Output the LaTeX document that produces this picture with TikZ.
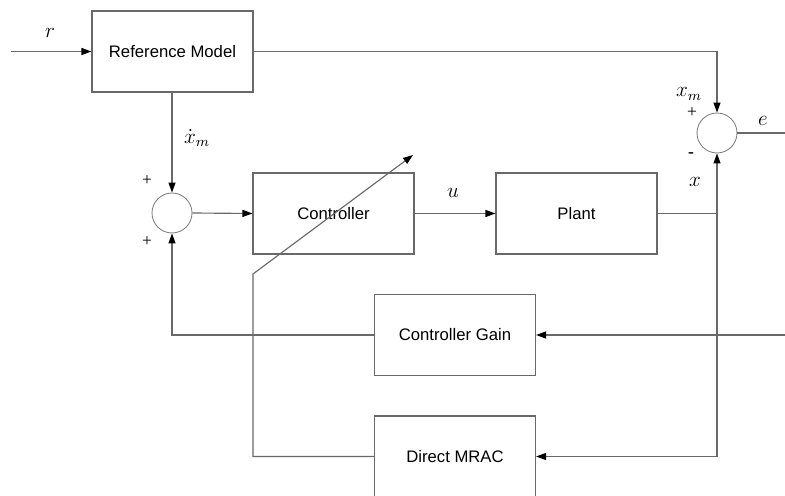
\documentclass[tikz,border=0pt]{standalone}
\usepackage{fontspec}
\setmainfont{Liberation Serif}
\setsansfont{Liberation Sans}
\usetikzlibrary{arrows.meta,calc}
\definecolor{wirecolor}{RGB}{105,105,105}
\tikzset{
	block/.style={draw=wirecolor,line width=0.65pt,minimum width=3.22cm,minimum height=1.62cm,inner sep=0pt,font=\sffamily\fontsize{9.5}{11}\selectfont},%
	sum/.style={draw=wirecolor!85,line width=0.5pt,circle,minimum size=0.8cm,inner sep=0pt},%
	plain/.style={draw=wirecolor,line width=0.65pt},%
	signal/.style={plain,-{Triangle[length=2mm,width=1.4mm,black]}},%
	sign/.style={font=\normalsize},%
	symbol/.style={font=\fontsize{12}{14}\selectfont},%
}
\begin{document}
\begin{tikzpicture}[x=0.02cm,y=-0.02cm]
	\useasboundingbox (0,0) rectangle (785,496);
	% blocks
	\node[block] (refmodel) at (172.5,51.5) {Reference Model};
	\node[block] (controller) at (333.5,213.5) {Controller};
	\node[block] (plant) at (576.5,213.5) {Plant};
	\node[block] (gain) at (455,335) {Controller Gain};
	\node[block] (mrac) at (455,456.5) {Direct MRAC};
	\node[sum] (suml) at (172,213) {};
	\node[sum] (sumr) at (717,133) {};
	% free ends
	\coordinate (rin) at (11,51.5);
	\coordinate (eout) at (785,133);
	\coordinate (xin) at (785,335);
	\coordinate (tapx) at (717,213.5);
	\coordinate (adjtail) at (253,274);
	\coordinate (adjtip) at (413,155);
	% signals
	\draw[signal] (rin) -- (refmodel.west);
	\draw[signal] (refmodel.east) -| (sumr.north);
	\draw[signal] (refmodel.south -| suml.north) -- (suml.north);
	\draw[signal] (suml.east) -- (controller.west);
	\draw[signal] (controller.east) -- (plant.west);
	\draw[plain] (plant.east) -- (tapx);
	\draw[signal] (tapx) -- (sumr.south);
	\draw[plain] (sumr.east) -- (eout);
	\draw[signal] (xin) -- (gain.east);
	\draw[signal] (gain.west) -| (suml.south);
	\draw[signal] (tapx) |- (mrac.east);
	\draw[signal] (mrac.west) -| (adjtail) -- (adjtip);
	% labels
	\node[symbol] (rlabel) at (50,33) {\(r\)};
	\node[symbol] (xmdotlabel) at (197,138) {\(\dot{x}_m\)};
	\node[symbol] (ulabel) at (453,193) {\(u\)};
	\node[symbol] (xmlabel) at (689,94) {\(x_m\)};
	\node[symbol] (xlabel) at (695,182) {\(x\)};
	\node[symbol] (elabel) at (763,121) {\(e\)};
	\node[sign] (plustop) at (147,181) {+};
	\node[sign] (plusbottom) at (147,242) {+};
	\node[sign] (plusright) at (692,113) {+};
	\node[sign] (minusright) at (691,155) {\textbf{-}};
\end{tikzpicture}
\end{document}
